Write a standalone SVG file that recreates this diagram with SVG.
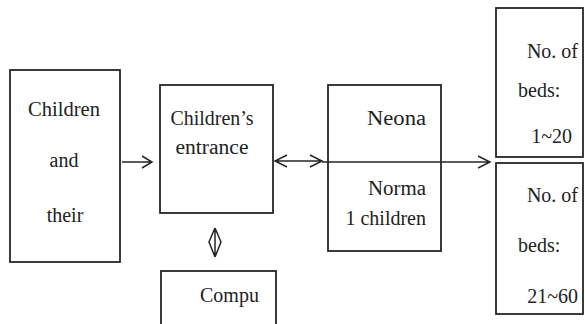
<svg xmlns="http://www.w3.org/2000/svg" width="585" height="324" viewBox="0 0 585 324">
  <style>
    .box { fill: #ffffff; stroke: #262626; stroke-width: 1.8; }
    .ln { fill: none; stroke: #262626; stroke-width: 1.5; }
    .mid { text-anchor: middle; }
    .end { text-anchor: end; }
  </style>
  <rect width="585" height="324" fill="#ffffff"/>

  <g font-family="Liberation Serif, Times New Roman, serif" font-size="20" fill="#222222">
  <g id="node-children">
    <rect class="box" x="10" y="70" width="110" height="192"/>
    <text class="mid" x="64" y="116" textLength="72" lengthAdjust="spacingAndGlyphs">Children</text>
    <text class="mid" x="64" y="167">and</text>
    <text class="mid" x="65" y="222">their</text>
  </g>

  <g id="node-entrance">
    <rect class="box" x="160" y="85" width="113" height="128"/>
    <text class="mid" x="212" y="125" textLength="83" lengthAdjust="spacingAndGlyphs">Children’s</text>
    <text class="mid" x="212" y="154" textLength="73" lengthAdjust="spacingAndGlyphs">entrance</text>
  </g>

  <g id="node-compu">
    <rect class="box" x="161" y="271" width="115" height="60"/>
    <text x="200" y="302">Compu</text>
  </g>

  <g id="node-wards">
    <rect class="box" x="328" y="85" width="113" height="166"/>
    <text class="end" x="426" y="125" textLength="59" lengthAdjust="spacingAndGlyphs">Neona</text>
    <text class="end" x="426" y="195" textLength="58" lengthAdjust="spacingAndGlyphs">Norma</text>
    <text class="end" x="426" y="225">1 children</text>
  </g>

  <g id="node-beds-small">
    <rect class="box" x="496" y="8" width="87" height="149"/>
    <text class="end" x="578" y="58">No. of</text>
    <text x="518" y="97">beds:</text>
    <text class="end" x="572" y="143">1~20</text>
  </g>

  <g id="node-beds-large">
    <rect class="box" x="496" y="163" width="87" height="151"/>
    <text class="end" x="578" y="202">No. of</text>
    <text x="518" y="252">beds:</text>
    <text class="end" x="578" y="303">21~60</text>
  </g>
  </g>

  <g id="connectors">
    <!-- children -> entrance -->
    <path class="ln" d="M122,162 H152 M142,156 L152,162 L142,168"/>
    <!-- entrance <-> wards -->
    <path class="ln" d="M275,161 H322 M287,155 L275,161 L287,167 M310,155 L322,161 L310,167"/>
    <!-- divider through wards box continuing to beds -->
    <path class="ln" d="M322,162 H490 M478,156 L490,162 L478,168"/>
    <!-- entrance <-> compu -->
    <path class="ln" d="M215,228 V257 M215,228 L209,242 L215,257 M215,228 L221,242 L215,257"/>
  </g>
</svg>
